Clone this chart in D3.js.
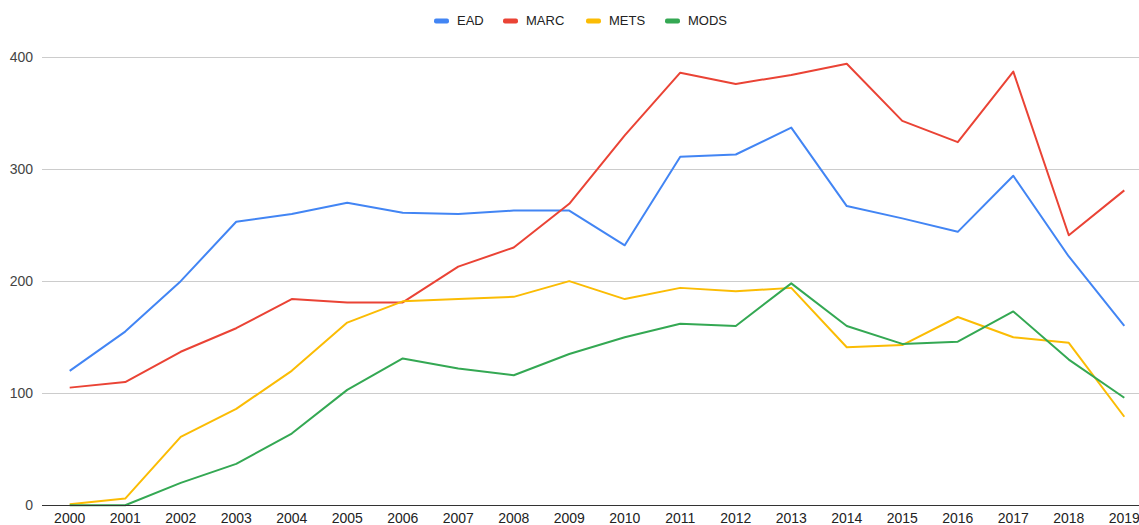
<!DOCTYPE html>
<html>
<head>
<meta charset="utf-8">
<script src="https://cdn.jsdelivr.net/npm/d3@7"></script>
<style>
  body { margin: 0; background: #fff; }
  svg { display: block; font-family: Arial, "Liberation Sans", sans-serif; }
</style>
</head>
<body>
<svg width="1139" height="525"></svg>
<script>
const years = d3.range(2000, 2020);
const seriesNames = ["EAD", "MARC", "METS", "MODS"];
const colors = ["#4285f4", "#ea4335", "#fbbc04", "#34a853"];
const yTicks = [0, 100, 200, 300, 400];

const ead  = [120, 155, 200, 253, 260, 270, 261, 260, 263, 263, 232, 311, 313, 337, 267, 256, 244, 294, 222, 160];
const marc = [105, 110, 137, 158, 184, 181, 181, 213, 230, 269, 330, 386, 376, 384, 394, 343, 324, 387, 241, 281];
const mets = [1, 6, 61, 86, 120, 163, 182, 184, 186, 200, 184, 194, 191, 194, 141, 143, 168, 150, 145, 79];
const mods = [0, 0, 20, 37, 64, 103, 131, 122, 116, 135, 150, 162, 160, 198, 160, 144, 146, 173, 130, 96];

const seriesValues = [ead, marc, mets, mods];

const svg = d3.select("svg");
const plotLeft = 42, plotRight = 1139;

const x = d3.scaleLinear().domain([2000, 2019]).range([69.7, 1124.3]);
const y = d3.scaleLinear().domain([0, 400]).range([505.3, 57]);

// Grid lines
svg.append("g")
    .selectAll("line")
    .data(yTicks.filter(d => d !== 0))
    .enter().append("line")
    .attr("x1", plotLeft).attr("x2", plotRight)
    .attr("y1", d => Math.round(y(d)) + 0.5).attr("y2", d => Math.round(y(d)) + 0.5)
    .attr("stroke", "#cccccc");

// Y labels
svg.append("g")
    .selectAll("text")
    .data(yTicks)
    .enter().append("text")
    .attr("x", 33)
    .attr("y", d => y(d))
    .attr("dy", "0.35em")
    .attr("text-anchor", "end")
    .attr("font-size", 14)
    .attr("fill", "#444")
    .text(d => d);

// X labels
svg.append("g")
    .selectAll("text")
    .data(years)
    .enter().append("text")
    .attr("x", d => x(d))
    .attr("y", 523)
    .attr("text-anchor", "middle")
    .attr("font-size", 14)
    .attr("fill", "#222")
    .text(d => d);

// Lines
const line = d3.line()
    .x((d, i) => x(years[i]))
    .y(d => y(d));

svg.append("g")
    .selectAll("path")
    .data(seriesValues)
    .enter().append("path")
    .attr("fill", "none")
    .attr("stroke", (d, i) => colors[i])
    .attr("stroke-width", 2)
    .attr("stroke-linejoin", "round")
    .attr("d", line);

// Baseline
svg.append("line")
    .attr("x1", plotLeft).attr("x2", plotRight)
    .attr("y1", Math.round(y(0)) + 0.5).attr("y2", Math.round(y(0)) + 0.5)
    .attr("stroke", "#333");

// Legend
const legendX = [434, 503, 586, 665];
const legend = svg.append("g")
    .selectAll("g")
    .data(seriesNames)
    .enter().append("g")
    .attr("transform", (d, i) => `translate(${legendX[i]}, 21)`);

legend.append("rect")
    .attr("x", 0).attr("y", -2.5)
    .attr("width", 15).attr("height", 5)
    .attr("rx", 2)
    .attr("fill", (d, i) => colors[i]);

legend.append("text")
    .attr("x", 23)
    .attr("y", -1)
    .attr("dy", "0.35em")
    .attr("font-size", 13)
    .attr("fill", "#222")
    .text(d => d);
</script>
</body>
</html>
